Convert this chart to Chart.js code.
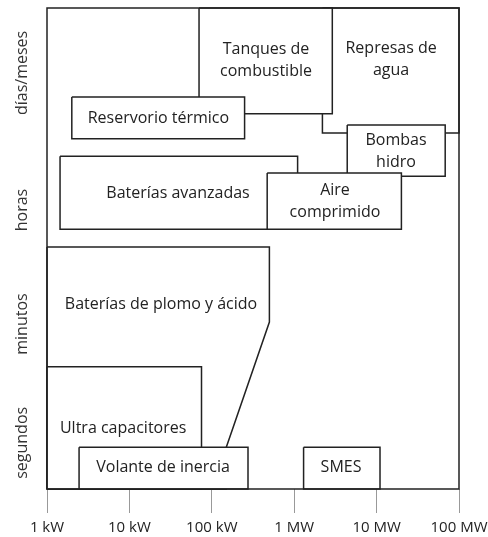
<!DOCTYPE html>
<html lang="es">
<head>
    <meta charset="UTF-8">
    <title>Almacenamiento de energía</title>
    <script src="https://cdn.jsdelivr.net/npm/chart.js"></script>
    <style>
        html, body { margin: 0; padding: 0; background: #fff; }
        #wrap { width: 488px; height: 537px; }
    </style>
</head>
<body>
    <div id="wrap"><canvas id="myChart" width="488" height="537"></canvas></div>

    <script>
        // power axis in kW, duration axis in arbitrary units (0 = bottom, 100 = top)
        const xTickValues = [1, 10, 100, 1000, 10000, 100000];
        const xTickLabels = ['1 kW', '10 kW', '100 kW', '1 MW', '10 MW', '100 MW'];

        const yLabels = ['segundos', 'minutos', 'horas', 'días/meses'];
        const yLabelPos = [9.6, 34.3, 58, 86.5];

        // each technology as a closed outline [kW, duration]
        const represas = [[2200, 100], [100000, 100], [100000, 74], [2200, 74], [2200, 100]];
        const tanques = [[70, 100], [2900, 100], [2900, 78], [70, 78], [70, 100]];
        const reservorio = [[2, 81.5], [250, 81.5], [250, 72.8], [2, 72.8], [2, 81.5]];
        const bombas = [[4400, 75.7], [68000, 75.7], [68000, 65], [4400, 65], [4400, 75.7]];
        const avanzadas = [[1.44, 69.2], [1100, 69.2], [1100, 54], [1.44, 54], [1.44, 69.2]];
        const aire = [[470, 65.7], [20000, 65.7], [20000, 54], [470, 54], [470, 65.7]];
        const plomo = [[1, 50.3], [500, 50.3], [500, 34.7], [150, 8.7], [150, 0], [1, 0], [1, 50.3]];
        const ultra = [[1, 25.4], [75, 25.4], [75, 0], [1, 0], [1, 25.4]];
        const volante = [[2.45, 8.7], [275, 8.7], [275, 0], [2.45, 0], [2.45, 8.7]];
        const smes = [[1300, 8.7], [11000, 8.7], [11000, 0], [1300, 0], [1300, 8.7]];
        const frame = [[1, 0], [100000, 0], [100000, 100], [1, 100], [1, 0]];

        // back to front
        const shapes = [represas, tanques, reservorio, bombas, avanzadas, aire, plomo, ultra, volante, smes];

        const boxTexts = ['Represas de\nagua', 'Tanques de\ncombustible', 'Reservorio térmico', 'Bombas\nhidro',
            'Baterías avanzadas', 'Aire\ncomprimido', 'Baterías de plomo y ácido', 'Ultra capacitores',
            'Volante de inercia', 'SMES'];
        const textX = [15000, 455, 22.5, 17200, 38.9, 3126, 24.2, 8.4, 25.6, 3700];
        const textY = [89.4, 89.0, 77.1, 70.1, 61.5, 59.7, 38.3, 12.5, 4.4, 4.4];

        const ink = '#222';

        const datasets = shapes.map((pts, i) => ({
            data: pts.map(p => ({ x: p[0], y: p[1] })),
            showLine: true,
            fill: 'shape',
            backgroundColor: '#fff',
            borderColor: ink,
            borderWidth: 1.5,
            pointRadius: 0,
            clip: false,
            order: shapes.length - i
        }));
        datasets.push({
            data: frame.map(p => ({ x: p[0], y: p[1] })),
            showLine: true,
            fill: false,
            borderColor: ink,
            borderWidth: 1.5,
            pointRadius: 0,
            clip: false,
            order: -1
        });

        const labelPlugin = {
            id: 'boxLabels',
            afterDatasetsDraw(chart) {
                const { ctx, chartArea } = chart;
                const x = chart.scales.x, y = chart.scales.y;
                ctx.save();
                ctx.fillStyle = ink;
                ctx.textAlign = 'center';
                ctx.textBaseline = 'middle';
                ctx.font = '16px "Open Sans"';
                boxTexts.forEach((t, i) => {
                    const lines = t.split('\n');
                    const px = x.getPixelForValue(textX[i]);
                    const py = y.getPixelForValue(textY[i]);
                    lines.forEach((l, j) => ctx.fillText(l, px, py + (j - (lines.length - 1) / 2) * 22));
                });
                ctx.fillStyle = '#333';
                yLabels.forEach((l, i) => {
                    ctx.save();
                    ctx.translate(chartArea.left - 25, y.getPixelForValue(yLabelPos[i]));
                    ctx.rotate(-Math.PI / 2);
                    ctx.fillText(l, 0, 0);
                    ctx.restore();
                });
                ctx.restore();
            }
        };

        const ctx = document.getElementById('myChart').getContext('2d');
        new Chart(ctx, {
            type: 'scatter',
            data: { datasets: datasets },
            plugins: [labelPlugin],
            options: {
                responsive: false,
                animation: false,
                events: [],
                layout: { padding: { left: 47, right: 29, top: 8, bottom: 0 } },
                plugins: { legend: { display: false }, tooltip: { enabled: false } },
                scales: {
                    x: {
                        type: 'logarithmic',
                        min: 1,
                        max: 100000,
                        afterBuildTicks: s => { s.ticks = xTickValues.map(v => ({ value: v })); },
                        afterFit: s => { s.height = 48; s.paddingLeft = 0; s.paddingRight = 0; },
                        grid: { drawOnChartArea: false, tickLength: 24, color: '#999', lineWidth: 1 },
                        border: { display: false },
                        ticks: {
                            autoSkip: false,
                            maxRotation: 0,
                            padding: 6,
                            color: ink,
                            font: { family: 'Open Sans', size: 15 },
                            callback: (v) => xTickLabels[xTickValues.indexOf(v)]
                        }
                    },
                    y: { type: 'linear', min: 0, max: 100, display: false }
                }
            }
        });
    </script>
</body>
</html>
